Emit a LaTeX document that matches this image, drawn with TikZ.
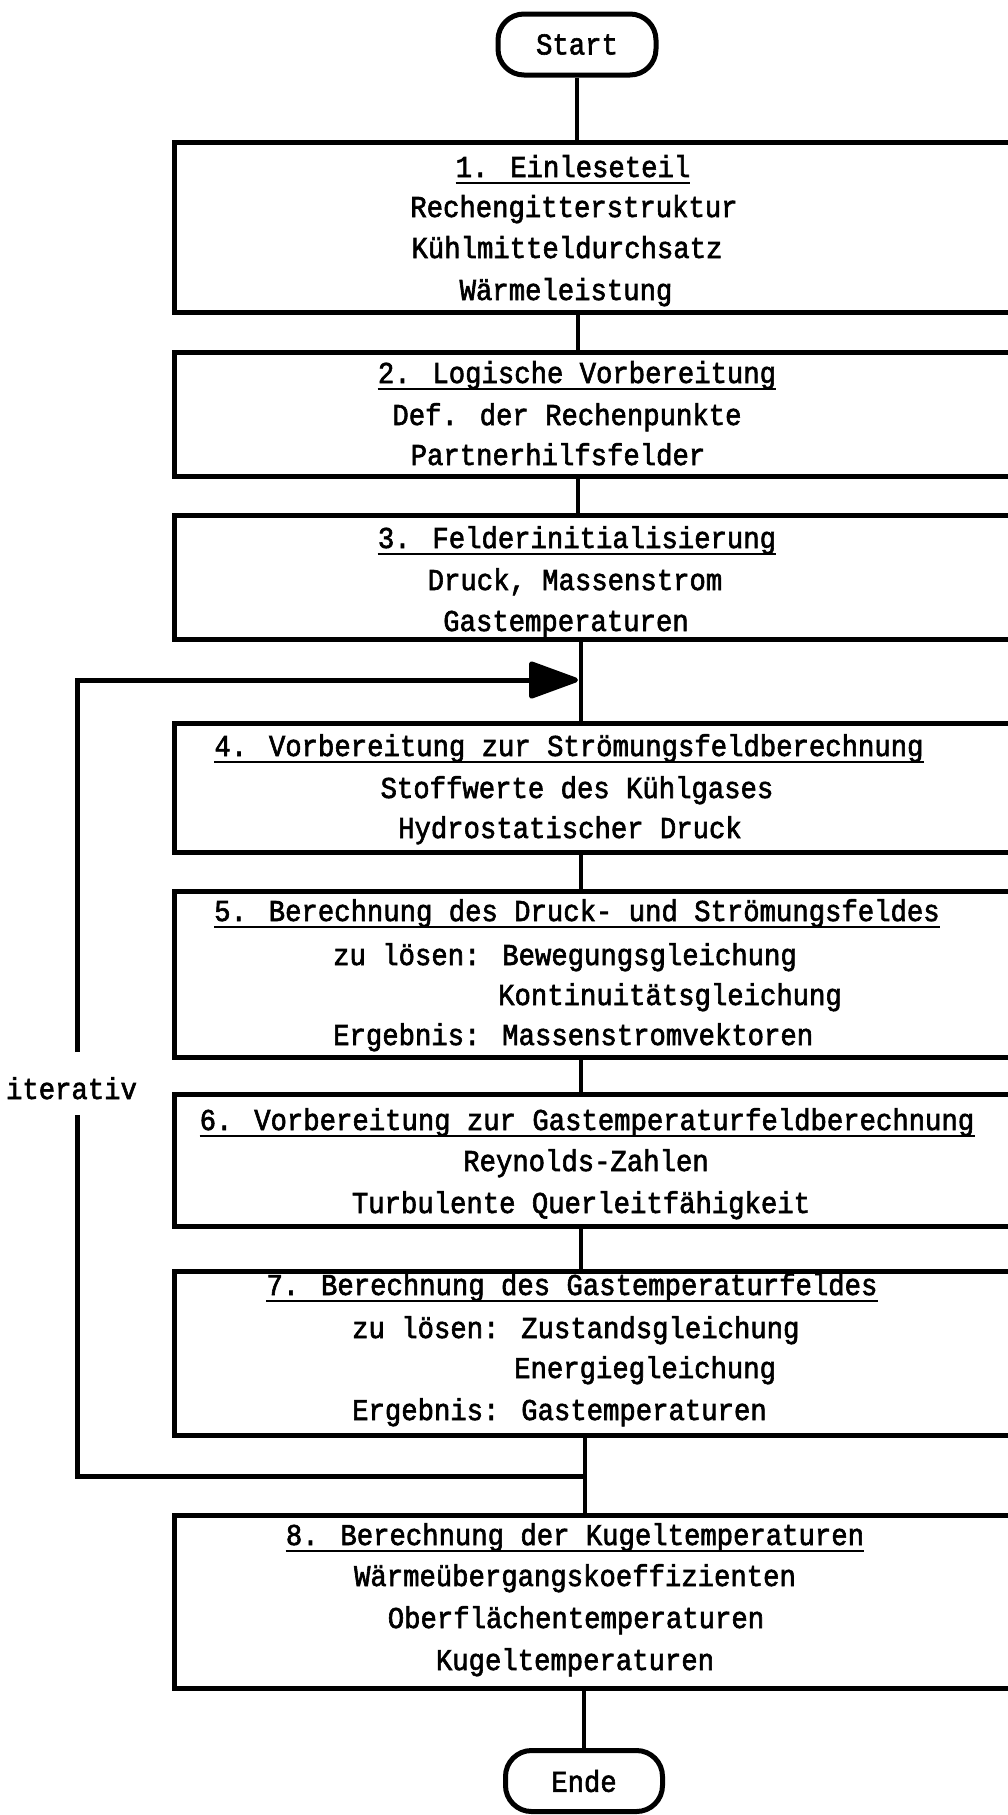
\documentclass[tikz,border=0pt]{standalone}
\usepackage{fontspec}
\newfontfamily\tw[FakeBold=2,FakeStretch=0.9]{Liberation Mono}
\usetikzlibrary{arrows.meta}
\tikzset{
  box/.style={draw, line width=5pt, inner sep=0pt, minimum width=866pt},
  term/.style={draw, line width=5pt, rounded corners=26pt, inner sep=0pt,
    font=\tw\fontsize{30.3pt}{36pt}\selectfont},
  txt/.style={inner sep=0pt, anchor=base, font=\tw\fontsize{30.3pt}{36pt}\selectfont},
  txtl/.style={txt, anchor=base west},
  conn/.style={line width=4pt},
  loopline/.style={line width=5pt},
  uline/.style={line width=2.5pt}
}
\newcommand{\uh}[1]{\draw[uline] ([yshift=-6pt]#1.base west) -- ([yshift=-6pt]#1.base east);}
\begin{document}
\begin{tikzpicture}[x=1pt,y=-1pt]
\useasboundingbox (0,0) rectangle (1008,1815);
\clip (0,0) rectangle (1008,1815);
\fill[white] (0,0) rectangle (1008,1815);

% terminals
\node[term, minimum width=158pt, minimum height=61pt] (start) at (577,44.5) {Start};
\node[term, minimum width=157pt, minimum height=61pt] (ende) at (584,1781) {Ende};

% boxes
\node[box, minimum height=170pt] (b1) at (607,227) {};
\node[box, minimum height=124pt] (b2) at (607,414) {};
\node[box, minimum height=124pt] (b3) at (607,577) {};
\node[box, minimum height=129pt] (b4) at (607,787.5) {};
\node[box, minimum height=166pt] (b5) at (607,974) {};
\node[box, minimum height=132pt] (b6) at (607,1160) {};
\node[box, minimum height=164pt] (b7) at (607,1353) {};
\node[box, minimum height=173pt] (b8) at (607,1601.5) {};

% box 1
\node[txt] (h1) at (573,177) {1. Einleseteil}; \uh{h1}
\node[txt] (t11) at (574,217) {Rechengitterstruktur};
\node[txt] (t12) at (567,258) {Kühlmitteldurchsatz};
\node[txt] (t13) at (566,300) {Wärmeleistung};
% box 2
\node[txt] (h2) at (577,383) {2. Logische Vorbereitung}; \uh{h2}
\node[txt] (t21) at (567,425) {Def. der Rechenpunkte};
\node[txt] (t22) at (558,465) {Partnerhilfsfelder};
% box 3
\node[txt] (h3) at (577,548) {3. Felderinitialisierung}; \uh{h3}
\node[txt] (t31) at (575,590) {Druck, Massenstrom};
\node[txt] (t32) at (566,631) {Gastemperaturen};
% box 4
\node[txt] (h4) at (569,756) {4. Vorbereitung zur Strömungsfeldberechnung}; \uh{h4}
\node[txt] (t41) at (577,798) {Stoffwerte des Kühlgases};
\node[txt] (t42) at (570,838) {Hydrostatischer Druck};
% box 5
\node[txt] (h5) at (577,921) {5. Berechnung des Druck- und Strömungsfeldes}; \uh{h5}
\node[txtl] (t51) at (333,965) {zu lösen: Bewegungsgleichung};
\node[txtl] (t52) at (498,1005) {Kontinuitätsgleichung};
\node[txtl] (t53) at (333,1045) {Ergebnis: Massenstromvektoren};
% box 6
\node[txt] (h6) at (587,1130) {6. Vorbereitung zur Gastemperaturfeldberechnung}; \uh{h6}
\node[txt] (t61) at (586,1171) {Reynolds-Zahlen};
\node[txt] (t62) at (581,1213) {Turbulente Querleitfähigkeit};
% box 7
\node[txt] (h7) at (572,1295) {7. Berechnung des Gastemperaturfeldes}; \uh{h7}
\node[txtl] (t71) at (352,1338) {zu lösen: Zustandsgleichung};
\node[txtl] (t72) at (514,1378) {Energiegleichung};
\node[txtl] (t73) at (352,1420) {Ergebnis: Gastemperaturen};
% box 8
\node[txt] (h8) at (575,1545) {8. Berechnung der Kugeltemperaturen}; \uh{h8}
\node[txt] (t81) at (575,1586) {Wärmeübergangskoeffizienten};
\node[txt] (t82) at (576,1628) {Oberflächentemperaturen};
\node[txt] (t83) at (575,1670) {Kugeltemperaturen};

% iterativ label
\node[txt] (it) at (71.5,1099) {iterativ};

% axis coordinates
\coordinate (axA) at (578,0);
\coordinate (axB) at (581,0);
\coordinate (axC) at (585,0);

% connectors
\draw[conn] (start.south) -- (start.south |- b1.north);
\draw[conn] (b1.south -| axA) -- (b2.north -| axA);
\draw[conn] (b2.south -| axA) -- (b3.north -| axA);
\draw[conn] (b3.south -| axB) -- (b4.north -| axB);
\draw[conn] (b4.south -| axB) -- (b5.north -| axB);
\draw[conn] (b5.south -| axB) -- (b6.north -| axB);
\draw[conn] (b6.south -| axB) -- (b7.north -| axB);
\draw[conn] (b7.south -| axC) -- (b8.north -| axC);
\draw[conn] (b8.south -| ende) -- (ende.north);

% iteration loop
\coordinate (j1) at (585,1476);
\coordinate (lpA) at (77,1115);
\coordinate (lpB) at (77,1052);
\coordinate (j2) at (578,680);
\draw[loopline] (j1) -| (lpA);
\draw[loopline, -{Triangle[length=54pt,width=38pt,round]}] (lpB) |- (j2);
\end{tikzpicture}
\end{document}
